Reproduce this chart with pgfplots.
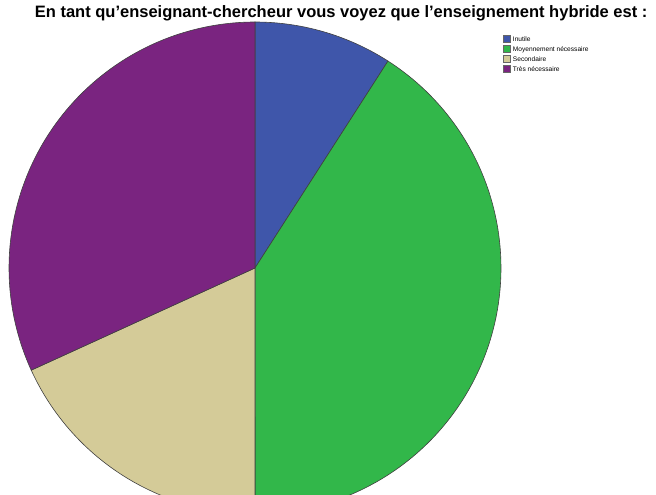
\documentclass[border=0pt]{standalone}
\usepackage{pgfplots}
\usepackage{pgfplotstable}
\pgfplotsset{compat=1.18}
\usepackage{fontspec}
\setmainfont{Liberation Sans}

\definecolor{cInutile}{RGB}{63,86,170}
\definecolor{cMoyen}{RGB}{50,183,74}
\definecolor{cSecond}{RGB}{212,203,152}
\definecolor{cTres}{RGB}{122,36,128}

% answers (counts)
\pgfplotstableread{
label count
Inutile 2
Moyennement 9
Secondaire 4
Tres 7
}\piedata

\begin{document}
\begin{tikzpicture}
\pgfplotstablegetelem{0}{count}\of\piedata \let\cA\pgfplotsretval
\pgfplotstablegetelem{1}{count}\of\piedata \let\cB\pgfplotsretval
\pgfplotstablegetelem{2}{count}\of\piedata \let\cC\pgfplotsretval
\pgfplotstablegetelem{3}{count}\of\piedata \let\cD\pgfplotsretval
\pgfmathsetmacro{\total}{\cA+\cB+\cC+\cD}
\pgfmathsetmacro{\aA}{90-360*\cA/\total}
\pgfmathsetmacro{\aB}{\aA-360*\cB/\total}
\pgfmathsetmacro{\aC}{\aB-360*\cC/\total}
\pgfmathsetmacro{\aD}{\aC-360*\cD/\total}
\def\R{246}
\begin{axis}[
name=ax,
scale only axis,
width=656pt,
height=495pt,
xmin=-255, xmax=401,
ymin=-227, ymax=268,
axis lines=none,
clip=true,
area legend,
legend cell align=left,
legend style={at={(0.767,0.930)},anchor=north west,draw=none,fill=none,
  font=\fontsize{6.6}{7.6}\selectfont,row sep=-0.5pt,inner sep=0pt},
legend image code/.code={\draw[#1,draw=black!60] (0pt,-2.5pt) rectangle (7pt,4.5pt);},
every axis plot/.append style={draw=black!75,line width=0.6pt,samples=120},
]
\addplot[fill=cInutile,domain=\aA:90] ({\R*cos(x)},{\R*sin(x)}) -- (0,0) -- cycle;
\addplot[fill=cMoyen,domain=\aB:\aA] ({\R*cos(x)},{\R*sin(x)}) -- (0,0) -- cycle;
\addplot[fill=cSecond,domain=\aC:\aB] ({\R*cos(x)},{\R*sin(x)}) -- (0,0) -- cycle;
\addplot[fill=cTres,domain=\aD:\aC] ({\R*cos(x)},{\R*sin(x)}) -- (0,0) -- cycle;
\legend{Inutile,Moyennement nécessaire,Secondaire,Très nécessaire}
\node[font=\bfseries\fontsize{16.5}{18}\selectfont,anchor=center] at (rel axis cs:0.52,0.974)
  {En tant qu’enseignant-chercheur vous voyez que l’enseignement hybride est :};
\end{axis}
\pgfresetboundingbox
\path (ax.south west) rectangle (ax.north east);
\end{tikzpicture}
\end{document}
